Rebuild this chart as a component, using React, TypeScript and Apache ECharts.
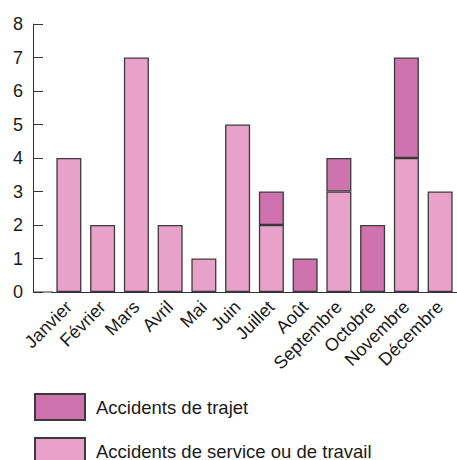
import React, { useEffect, useRef } from "react";
import * as echarts from "echarts";

const months = [
  "Janvier", "Février", "Mars", "Avril", "Mai", "Juin",
  "Juillet", "Août", "Septembre", "Octobre", "Novembre", "Décembre",
];
const serviceValues = [4, 2, 7, 2, 1, 5, 2, 0, 3, 0, 4, 3];
const trajetValues = [0, 0, 0, 0, 0, 0, 1, 1, 1, 2, 3, 0];
const yTicks = [0, 1, 2, 3, 4, 5, 6, 7, 8];
const serviceName = "Accidents de service ou de travail";
const trajetName = "Accidents de trajet";

const FONT = "'Liberation Sans', Arial, sans-serif";
const TEXT = "#1a1a1a";
const LINE = "#333333";

export default function App() {
  const ref = useRef<HTMLDivElement>(null);
  useEffect(() => {
    document.body.style.margin = "0";
    if (!ref.current) return;
    const chart = echarts.init(ref.current, null, { renderer: "svg" });
    const toData = (arr: number[]) => arr.map((v) => (v === 0 ? "-" : v));
    const legendBase = {
      orient: "vertical",
      left: 34,
      padding: 0,
      itemWidth: 50,
      itemHeight: 26,
      itemGap: 10,
      icon: "rect",
      textStyle: { fontSize: 18.5, color: TEXT, fontFamily: FONT, padding: [0, 0, 0, 6] },
    };
    chart.setOption({
      animation: false,
      textStyle: { fontFamily: FONT },
      grid: { left: 52, right: -7, top: 24, bottom: 168, containLabel: false },
      legend: [
        { ...legendBase, top: 393, data: [trajetName] },
        { ...legendBase, top: 437, data: [serviceName] },
      ],
      xAxis: {
        type: "category",
        data: months,
        boundaryGap: true,
        axisLine: { show: true, lineStyle: { color: LINE, width: 1 } },
        axisTick: { show: false },
        axisLabel: {
          rotate: 45,
          margin: 12,
          fontSize: 18,
          color: TEXT,
          fontFamily: FONT,
          interval: 0,
        },
      },
      yAxis: {
        type: "value",
        min: yTicks[0],
        max: yTicks[yTicks.length - 1],
        interval: 1,
        offset: 19,
        splitLine: { show: false },
        axisLine: { show: true, lineStyle: { color: LINE, width: 1 } },
        axisTick: { show: true, inside: true, length: 10, lineStyle: { color: LINE } },
        axisLabel: { margin: 10, fontSize: 18, color: TEXT, fontFamily: FONT },
      },
      graphic: [
        {
          type: "line",
          shape: { x1: 33, y1: 292, x2: 53, y2: 292 },
          style: { stroke: LINE, lineWidth: 1 },
        },
      ],
      series: [
        {
          name: serviceName,
          type: "bar",
          stack: "total",
          barWidth: 25,
          data: toData(serviceValues),
          itemStyle: { color: "#e8a1c8", borderColor: "#3a3a3a", borderWidth: 1.3 },
        },
        {
          name: trajetName,
          type: "bar",
          stack: "total",
          barWidth: 25,
          data: toData(trajetValues),
          itemStyle: { color: "#cf73ae", borderColor: "#3a3a3a", borderWidth: 1.3 },
        },
      ],
    });
    return () => chart.dispose();
  }, []);
  return <div ref={ref} style={{ width: 457, height: 460 }} />;
}
